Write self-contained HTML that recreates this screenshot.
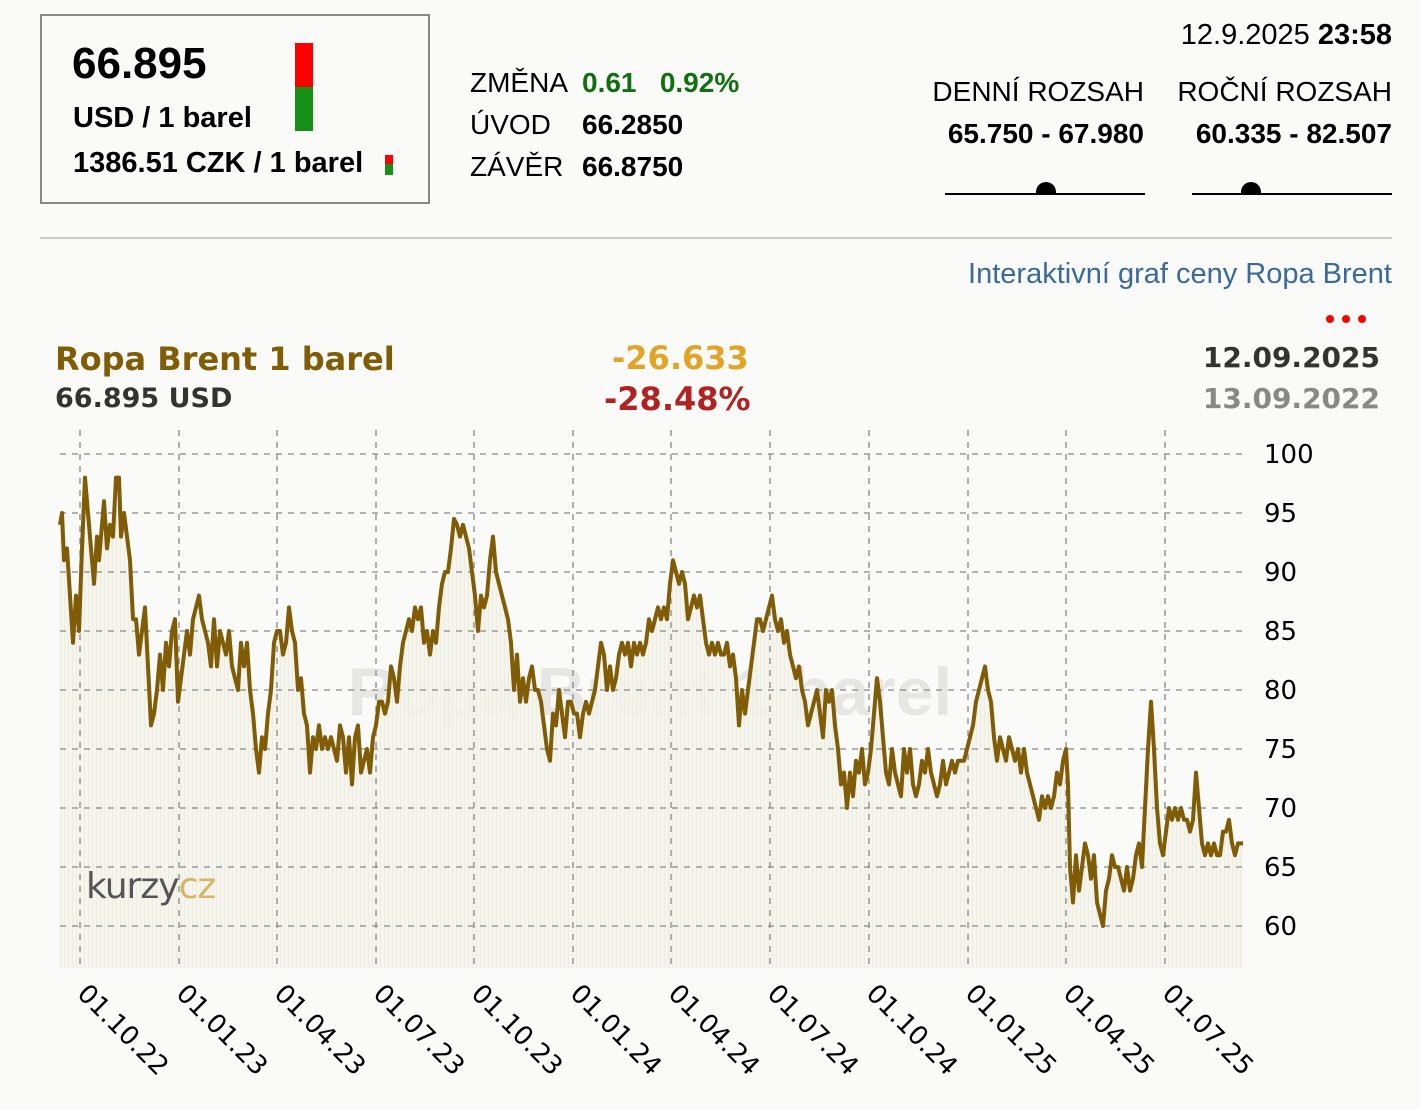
<!DOCTYPE html>
<html><head><meta charset="utf-8"><style>
body{margin:0;width:1420px;height:1110px;background:#fafaf8;font-family:"Liberation Sans",Arial,sans-serif;position:relative;overflow:hidden}
.a{position:absolute;white-space:nowrap}
.b{font-weight:bold}
.r{text-align:right}
.dv{font-family:"DejaVu Sans",sans-serif}
</style></head><body>
<div class="a" style="left:40px;top:14px;width:386px;height:186px;border:2px solid #888"></div>
<div class="a b" style="left:72px;top:39px;font-size:44px;color:#000">66.895</div>
<div class="a b" style="left:73px;top:102px;font-size:29px">USD / 1 barel</div>
<div class="a b" style="left:73px;top:147px;font-size:29px">1386.51 CZK / 1 barel</div>
<div class="a" style="left:295px;top:43px;width:18px;height:44px;background:#f00"></div>
<div class="a" style="left:295px;top:87px;width:18px;height:44px;background:#169016"></div>
<div class="a" style="left:385px;top:155px;width:8px;height:9px;background:#f00"></div>
<div class="a" style="left:385px;top:164px;width:8px;height:11px;background:#169016"></div>

<div class="a" style="left:470px;top:67px;font-size:28px">ZMĚNA</div>
<div class="a b" style="left:582px;top:67px;font-size:28px;color:#107010">0.61 &nbsp;&nbsp;0.92%</div>
<div class="a" style="left:470px;top:109px;font-size:28px">ÚVOD</div>
<div class="a b" style="left:582px;top:109px;font-size:28px">66.2850</div>
<div class="a" style="left:470px;top:151px;font-size:28px">ZÁVĚR</div>
<div class="a b" style="left:582px;top:151px;font-size:28px">66.8750</div>

<div class="a r" style="right:28px;top:19px;font-size:29px">12.9.2025 <b>23:58</b></div>
<div class="a r" style="right:276px;top:76px;font-size:28px">DENNÍ ROZSAH</div>
<div class="a r b" style="right:276px;top:118px;font-size:28px">65.750 - 67.980</div>
<div class="a r" style="right:28px;top:76px;font-size:28px">ROČNÍ ROZSAH</div>
<div class="a r b" style="right:28px;top:118px;font-size:28px">60.335 - 82.507</div>
<div class="a" style="left:945px;top:193px;width:200px;height:2px;background:#000"></div>
<div class="a" style="left:1036px;top:182px;width:20px;height:12px;border-radius:10px 10px 0 0;background:#000"></div>
<div class="a" style="left:1192px;top:193px;width:200px;height:2px;background:#000"></div>
<div class="a" style="left:1241px;top:182px;width:20px;height:12px;border-radius:10px 10px 0 0;background:#000"></div>

<div class="a" style="left:40px;top:237px;width:1352px;height:2px;background:#ccc"></div>
<div class="a r" style="right:28px;top:258px;font-size:29px;color:#3a6a9c">Interaktivní graf ceny Ropa Brent</div>
<div class="a" style="left:1326px;top:315px;width:8px;height:8px;border-radius:4px;background:#f00"></div>
<div class="a" style="left:1342px;top:315px;width:8px;height:8px;border-radius:4px;background:#f00"></div>
<div class="a" style="left:1358px;top:315px;width:8px;height:8px;border-radius:4px;background:#f00"></div>

<div class="a b dv" style="left:55px;top:340px;font-size:32px;color:#7f5c05">Ropa Brent 1 barel</div>
<div class="a b dv" style="left:55px;top:383px;font-size:27px;color:#333">66.895 USD</div>
<div class="a b dv" style="left:612px;top:339px;font-size:32px;color:#e0a526">-26.633</div>
<div class="a b dv" style="left:604px;top:380px;font-size:32px;color:#b22222">-28.48%</div>
<div class="a b dv r" style="right:40px;top:341px;font-size:28px;color:#333">12.09.2025</div>
<div class="a b dv r" style="right:40px;top:382px;font-size:28px;color:#888">13.09.2022</div>

<svg class="a" style="left:0;top:0" width="1420" height="1110">
<defs><pattern id="st" width="4" height="10" patternUnits="userSpaceOnUse"><rect width="4" height="10" fill="#f4f4ec"/><rect width="1" height="10" fill="#ecece0"/></pattern></defs>
<text x="650" y="715" font-family="Liberation Sans,sans-serif" font-weight="bold" font-size="68" fill="#e6e6e2" text-anchor="middle">Ropa Brent 1 barel</text>
<g transform="translate(0,1634) scale(1,-11.8)">
<polygon fill="url(#st)" opacity="0.9" points="60,56.44 60,94 62,95 64,91 67,92 70,88 73,84 76,88 79,85 82,92 85,98 88,95 91,92 94,89 97,93 99,91 101,93 104,96 107,92 110,94 113,93 116,98 119,98 121,93 124,95 127,93 130,91 133,86 136,86 139,83 142,85 145,87 148,82 151,77 154,78 157,80 160,83 163,80 166,84 169,82 172,85 175,86 178,79 181,81 184,83 187,85 190,83 193,86 196,87 199,88 202,86 205,85 208,84 211,82 214,86 217,82 220,85 223,84 226,83 229,85 232,82 235,81 238,80 241,84 244,82 247,84 250,80 253,78 256,75 259,73 262,76 265,75 268,78 271,80 274,84 277,85 280,85 283,83 286,84 289,87 292,85 295,84 298,80 301,81 304,78 307,77 310,73 313,76 316,75 319,77 322,75 325,76 328,75 331,76 334,75 337,74 340,77 343,76 346,73 349,76 352,72 355,76 358,77 361,73 364,74 367,75 370,73 373,76 376,77 379,79 382,79 385,78 388,79 391,82 394,81 397,79 400,82 403,84 406,85 409,86 412,85 415,87 418,86 421,87 424,84 427,85 430,83 433,85 436,84 439,87 442,89 445,90 448,90 451,92 454,94.5 457,94 460,93 463,94 466,93 469,92 472,90 475,88 478,85 481,88 484,87 487,88 490,91 493,93 496,90 499,89 502,88 505,87 508,86 511,84 514,80 517,83 520,79 523,81 526,79 529,81 532,82 535,80 538,80 541,79 544,77 547,75 550,74 553,78 556,77 559,80 562,78 565,76 568,79 571,79 574,78 577,78 580,76 583,78 586,79 589,78 592,79 595,80 598,82 601,84 604,83 607,80 610,82 613,80 616,81 619,83 622,84 625,83 628,84 631,82 634,84 637,83 640,84 643,83 646,84 649,86 652,85 655,86 658,87 661,86 664,87 667,86 670,89 673,91 676,90 679,89 682,90 685,89 688,86 691,87 694,88 697,87 700,88 703,86 706,84 709,83 712,84 715,83 718,84 721,83 724,83 727,84 730,82 733,83 736,81 739,77 742,80 745,78 748,80 751,82 754,84 757,86 760,86 763,85 766,86 769,87 772,88 775,86 778,85 781,86 784,84 787,85 790,83 793,82 796,81 799,82 802,80 805,79 808,77 811,78 814,79 817,80 820,78 823,76 826,80 829,79 832,80 835,77 838,75 841,72 844,73 847,70 850,73 853,71 856,74 859,73 862,75 865,72 868,73 871,75 874,78 877,81 880,79 883,76 886,73 889,72 892,75 895,73 898,72 901,71 904,75 907,73 910,75 913,72 916,71 919,72 922,74 925,73 928,75 931,73 934,72 937,71 940,72 943,74 946,72 949,73 952,74 955,73 958,74 961,74 964,74 967,75 970,76 973,77 976,79 979,80 982,81 985,82 988,80 991,79 994,76 997,74 1000,76 1003,75 1006,74 1009,76 1012,75 1015,74 1018,75 1021,73 1024,75 1027,73 1030,72 1033,71 1036,70 1039,69 1042,71 1045,70 1048,71 1051,70 1054,71 1057,73 1060,72 1063,74 1066,75 1068,72 1070,65 1073,62 1076,66 1079,63 1082,65 1085,67 1088,66 1091,64 1094,66 1097,62 1100,61 1103,60 1106,63 1109,64 1112,66 1115,65 1118,65 1121,64 1124,63 1127,65 1130,63 1133,64 1136,66 1139,67 1142,65 1145,70 1148,75 1151,79 1154,75 1157,70 1160,67 1163,66 1166,68 1169,70 1172,69 1175,70 1178,69 1181,70 1184,69 1187,69 1190,68 1193,69 1196,73 1199,70 1202,67 1205,66 1208,67 1211,66 1214,67 1217,66 1220,66 1223,68 1226,68 1229,69 1232,67 1235,66 1238,67 1241,67 1243,67 1243,56.44"/>
</g>
<g stroke="#888" stroke-width="1.3" stroke-dasharray="6,6" fill="none">
<path d="M60 454H1243M60 513H1243M60 572H1243M60 631H1243M60 690H1243M60 749H1243M60 808H1243M60 867H1243M60 926H1243"/>
<path d="M80 430V968M179 430V968M277 430V968M376 430V968M474 430V968M573 430V968M671 430V968M770 430V968M869 430V968M968 430V968M1066 430V968M1165 430V968"/>
</g>
<g transform="translate(0,1634) scale(1,-11.8)">
<polyline fill="none" stroke="#7f5c05" stroke-width="4" stroke-linejoin="round" vector-effect="non-scaling-stroke" points="60,94 62,95 64,91 67,92 70,88 73,84 76,88 79,85 82,92 85,98 88,95 91,92 94,89 97,93 99,91 101,93 104,96 107,92 110,94 113,93 116,98 119,98 121,93 124,95 127,93 130,91 133,86 136,86 139,83 142,85 145,87 148,82 151,77 154,78 157,80 160,83 163,80 166,84 169,82 172,85 175,86 178,79 181,81 184,83 187,85 190,83 193,86 196,87 199,88 202,86 205,85 208,84 211,82 214,86 217,82 220,85 223,84 226,83 229,85 232,82 235,81 238,80 241,84 244,82 247,84 250,80 253,78 256,75 259,73 262,76 265,75 268,78 271,80 274,84 277,85 280,85 283,83 286,84 289,87 292,85 295,84 298,80 301,81 304,78 307,77 310,73 313,76 316,75 319,77 322,75 325,76 328,75 331,76 334,75 337,74 340,77 343,76 346,73 349,76 352,72 355,76 358,77 361,73 364,74 367,75 370,73 373,76 376,77 379,79 382,79 385,78 388,79 391,82 394,81 397,79 400,82 403,84 406,85 409,86 412,85 415,87 418,86 421,87 424,84 427,85 430,83 433,85 436,84 439,87 442,89 445,90 448,90 451,92 454,94.5 457,94 460,93 463,94 466,93 469,92 472,90 475,88 478,85 481,88 484,87 487,88 490,91 493,93 496,90 499,89 502,88 505,87 508,86 511,84 514,80 517,83 520,79 523,81 526,79 529,81 532,82 535,80 538,80 541,79 544,77 547,75 550,74 553,78 556,77 559,80 562,78 565,76 568,79 571,79 574,78 577,78 580,76 583,78 586,79 589,78 592,79 595,80 598,82 601,84 604,83 607,80 610,82 613,80 616,81 619,83 622,84 625,83 628,84 631,82 634,84 637,83 640,84 643,83 646,84 649,86 652,85 655,86 658,87 661,86 664,87 667,86 670,89 673,91 676,90 679,89 682,90 685,89 688,86 691,87 694,88 697,87 700,88 703,86 706,84 709,83 712,84 715,83 718,84 721,83 724,83 727,84 730,82 733,83 736,81 739,77 742,80 745,78 748,80 751,82 754,84 757,86 760,86 763,85 766,86 769,87 772,88 775,86 778,85 781,86 784,84 787,85 790,83 793,82 796,81 799,82 802,80 805,79 808,77 811,78 814,79 817,80 820,78 823,76 826,80 829,79 832,80 835,77 838,75 841,72 844,73 847,70 850,73 853,71 856,74 859,73 862,75 865,72 868,73 871,75 874,78 877,81 880,79 883,76 886,73 889,72 892,75 895,73 898,72 901,71 904,75 907,73 910,75 913,72 916,71 919,72 922,74 925,73 928,75 931,73 934,72 937,71 940,72 943,74 946,72 949,73 952,74 955,73 958,74 961,74 964,74 967,75 970,76 973,77 976,79 979,80 982,81 985,82 988,80 991,79 994,76 997,74 1000,76 1003,75 1006,74 1009,76 1012,75 1015,74 1018,75 1021,73 1024,75 1027,73 1030,72 1033,71 1036,70 1039,69 1042,71 1045,70 1048,71 1051,70 1054,71 1057,73 1060,72 1063,74 1066,75 1068,72 1070,65 1073,62 1076,66 1079,63 1082,65 1085,67 1088,66 1091,64 1094,66 1097,62 1100,61 1103,60 1106,63 1109,64 1112,66 1115,65 1118,65 1121,64 1124,63 1127,65 1130,63 1133,64 1136,66 1139,67 1142,65 1145,70 1148,75 1151,79 1154,75 1157,70 1160,67 1163,66 1166,68 1169,70 1172,69 1175,70 1178,69 1181,70 1184,69 1187,69 1190,68 1193,69 1196,73 1199,70 1202,67 1205,66 1208,67 1211,66 1214,67 1217,66 1220,66 1223,68 1226,68 1229,69 1232,67 1235,66 1238,67 1241,67 1243,67"/>
</g>
<g font-family="DejaVu Sans,sans-serif" font-size="26" fill="#000">
<text x="1264" y="463">100</text><text x="1264" y="522">95</text><text x="1264" y="581">90</text><text x="1264" y="640">85</text><text x="1264" y="699">80</text><text x="1264" y="758">75</text><text x="1264" y="817">70</text><text x="1264" y="876">65</text><text x="1264" y="935">60</text>
</g>
<g font-family="DejaVu Sans,sans-serif" font-size="26" fill="#000">
<text transform="translate(76,995) rotate(45)">01.10.22</text>
<text transform="translate(175,995) rotate(45)">01.01.23</text>
<text transform="translate(273,995) rotate(45)">01.04.23</text>
<text transform="translate(372,995) rotate(45)">01.07.23</text>
<text transform="translate(470,995) rotate(45)">01.10.23</text>
<text transform="translate(569,995) rotate(45)">01.01.24</text>
<text transform="translate(667,995) rotate(45)">01.04.24</text>
<text transform="translate(766,995) rotate(45)">01.07.24</text>
<text transform="translate(865,995) rotate(45)">01.10.24</text>
<text transform="translate(964,995) rotate(45)">01.01.25</text>
<text transform="translate(1062,995) rotate(45)">01.04.25</text>
<text transform="translate(1161,995) rotate(45)">01.07.25</text>
</g>
<text x="86" y="898" font-family="DejaVu Sans,sans-serif" font-size="36" fill="#555" letter-spacing="-1">kurzy<tspan fill="#d8b46a">cz</tspan></text>
</svg>
</body></html>
